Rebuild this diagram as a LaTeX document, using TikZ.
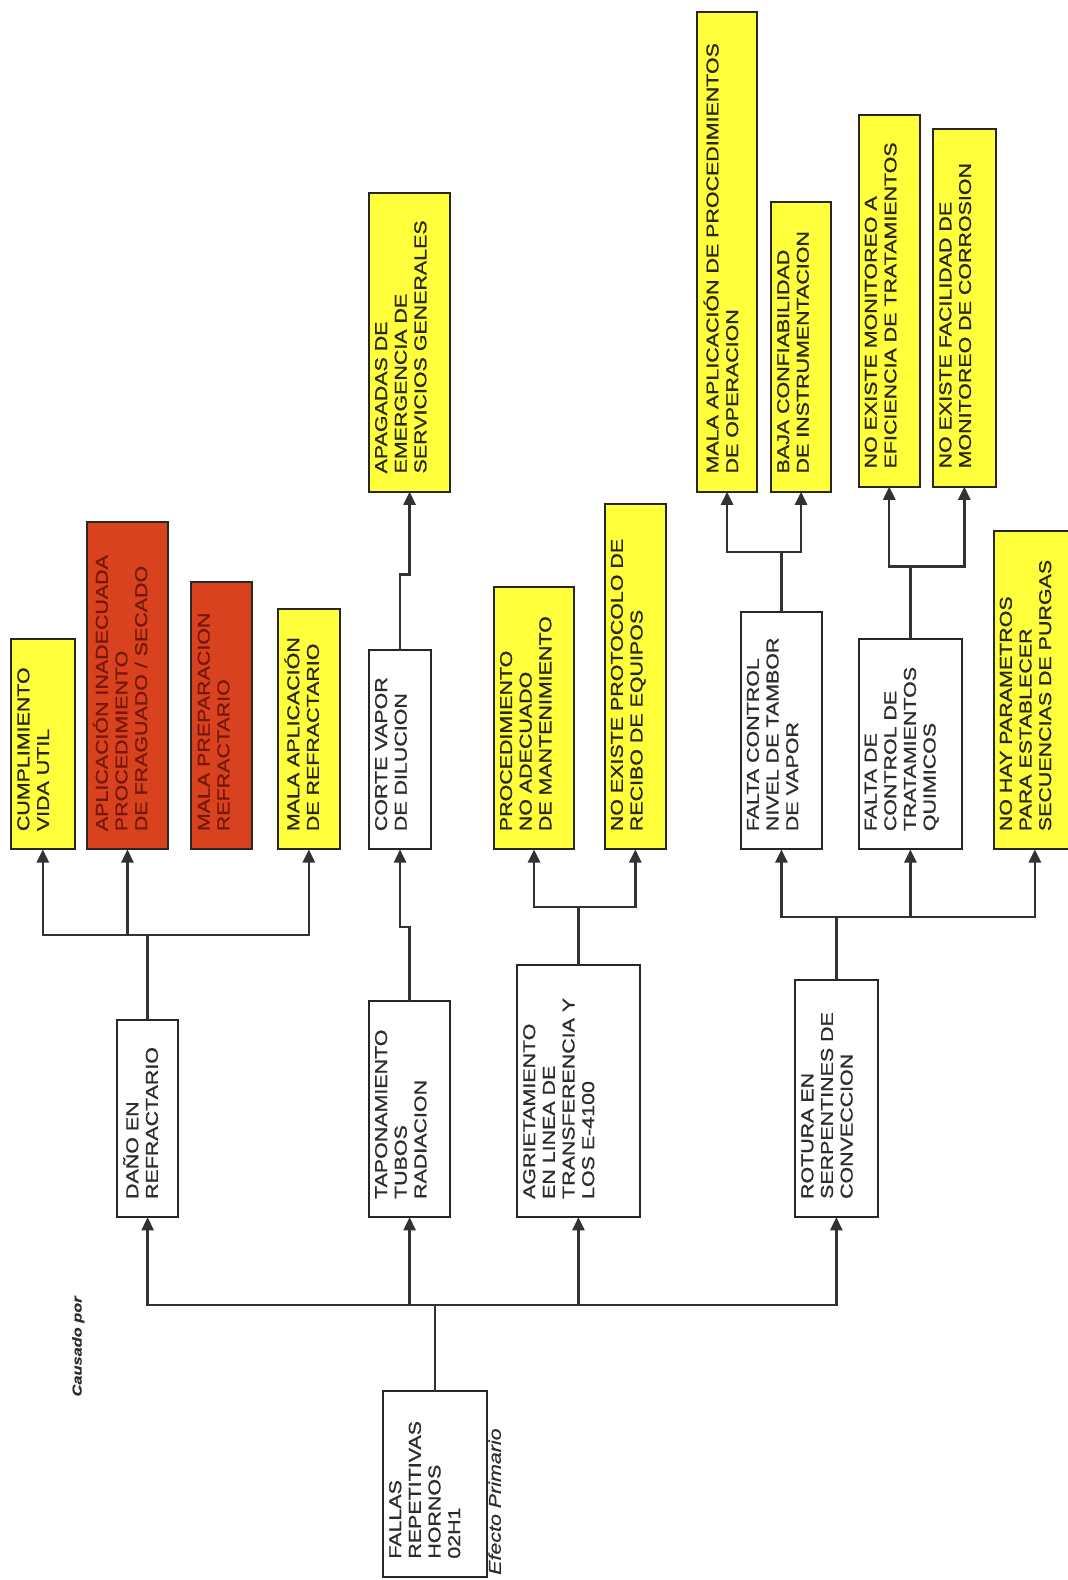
\documentclass[tikz,border=0pt]{standalone}
\usepackage{fontspec}
\setmainfont{Liberation Sans}
\newfontfamily\boxfont[FakeStretch=1.25,FakeBold=1.0]{Liberation Sans}
\newfontfamily\notefont[FakeStretch=1.25,FakeBold=0.5]{Liberation Sans}
\usetikzlibrary{arrows.meta}

\definecolor{boxyellow}{RGB}{255,255,60}
\definecolor{boxred}{RGB}{216,66,30}
\definecolor{edge}{RGB}{40,40,35}
\definecolor{wire}{RGB}{50,50,50}
\definecolor{inkdark}{RGB}{45,45,45}
\definecolor{inkolive}{RGB}{40,40,15}
\definecolor{inkred}{RGB}{120,22,10}

\tikzset{
  boxbase/.style={draw=edge, line width=2pt, inner sep=0pt, outer sep=0pt, rectangle},
  plain/.style={boxbase, fill=white},
  yel/.style={boxbase, fill=boxyellow},
  redbox/.style={boxbase, fill=boxred},
  lbl/.style={rotate=90, anchor=north west, align=left, inner sep=0pt,
    font=\boxfont\fontsize{17}{19.5}\selectfont,
    execute at begin node={\rule{0pt}{17pt}}},
  plain text/.style={lbl, text=inkdark},
  yel text/.style={lbl, text=inkolive},
  redbox text/.style={lbl, text=inkred},
  link/.style={draw=wire, line width=2.4pt},
  arr/.style={link, -{Triangle[length=13pt,width=12pt]}},
  note/.style={rotate=90, anchor=base west, inner sep=0pt, text=inkdark},
}

% \causebox{name}{style}{x1}{y1}{x2}{y2}{text}: a box between two corners,
% its text written upwards from the lower left corner
\newcommand\causebox[7]{%
  \node[#2, minimum width={(#5-#3)*1pt}, minimum height={(#6-#4)*1pt}]
    (#1) at ({(#3+#5)/2},{(#4+#6)/2}) {};
  \node[#2 text] (#1-t) at ([shift={(6pt,18pt)}]#1.south west) {#7};
}

\begin{document}
\begin{tikzpicture}[x=1pt,y=-1pt]
\useasboundingbox[fill=white] (0,0) rectangle (1059,1568);

% primary effect
\causebox{root}{plain}{380}{1380}{483}{1565}{FALLAS\\REPETITIVAS\\HORNOS\\02H1}
\node[note, font=\notefont\itshape\fontsize{17}{20}\selectfont] (effect) at (497,1563) {Efecto Primario};
\node[note, font=\notefont\bfseries\itshape\fontsize{13}{15}\selectfont] (causedby) at (81,1386) {Causado por};

% first level causes
\causebox{danio}{plain}{116}{1012}{177}{1208}{DAÑO EN\\REFRACTARIO}
\causebox{tapon}{plain}{366}{993}{447}{1208}{TAPONAMIENTO\\TUBOS\\RADIACION}
\causebox{agriet}{plain}{513}{958}{635}{1208}{AGRIETAMIENTO\\EN LINEA DE\\TRANSFERENCIA Y\\LOS E-4100}
\causebox{rotura}{plain}{789}{973}{871}{1208}{ROTURA EN\\SERPENTINES DE\\CONVECCION}

% refractory branch
\causebox{cumpl}{yel}{11}{634}{74}{843}{CUMPLIMIENTO\\VIDA UTIL}
\causebox{aplic}{redbox}{86}{518}{167}{843}{APLICACIÓN INADECUADA\\PROCEDIMIENTO\\DE FRAGUADO / SECADO}
\causebox{prep}{redbox}{190}{578}{250}{843}{MALA PREPARACION\\REFRACTARIO}
\causebox{malaref}{yel}{276}{604}{337}{843}{MALA APLICACIÓN\\DE REFRACTARIO}

% radiation tubes branch
\causebox{corte}{plain}{366}{645}{428}{843}{CORTE VAPOR\\DE DILUCION}
\causebox{apag}{yel}{366}{192}{447}{488}{APAGADAS DE\\EMERGENCIA DE\\SERVICIOS GENERALES}

% transfer line branch
\causebox{proc}{yel}{490}{583}{570}{843}{PROCEDIMIENTO\\NO ADECUADO\\DE MANTENIMIENTO}
\causebox{proto}{yel}{600}{500}{661}{843}{NO EXISTE PROTOCOLO DE\\RECIBO DE EQUIPOS}

% convection coil branch
\causebox{nivel}{plain}{735}{607}{816}{843}{FALTA CONTROL\\NIVEL DE TAMBOR\\DE VAPOR}
\causebox{quim}{plain}{852}{634}{955}{843}{FALTA DE\\CONTROL DE\\TRATAMIENTOS\\QUIMICOS}
\causebox{purgas}{yel}{986}{527}{1068}{843}{NO HAY PARAMETROS\\PARA ESTABLECER\\SECUENCIAS DE PURGAS}
\causebox{malaop}{yel}{692}{12}{751}{488}{MALA APLICACIÓN DE PROCEDIMIENTOS\\DE OPERACION}
\causebox{baja}{yel}{765}{200}{825}{488}{BAJA CONFIABILIDAD\\DE INSTRUMENTACION}
\causebox{monit}{yel}{852}{114}{913}{483}{NO EXISTE MONITOREO A\\EFICIENCIA DE TRATAMIENTOS}
\causebox{corros}{yel}{926}{128}{988}{483}{NO EXISTE FACILIDAD DE\\MONITOREO DE CORROSION}

% junction points of the connector buses
\coordinate (busroot) at (431.5,1295);
\coordinate (busdanio) at (146.5,928);
\coordinate (busagriet) at (574,900);
\coordinate (busrotura) at (830,910);
\coordinate (busnivel) at (775.5,548);
\coordinate (busquim) at (903.5,562);

% connectors
\foreach \t in {danio,tapon,agriet,rotura}
  \draw[arr] (root.north) -- (busroot) -| (\t.south);
\foreach \t in {cumpl,aplic,malaref}
  \draw[arr] (danio.north) -- (busdanio) -| (\t.south);
\draw[arr] (tapon.north) -- ++(0,-73) -| (corte.south);
\draw[arr] (corte.north) -- ++(0,-75) -| (apag.south);
\foreach \t in {proc,proto}
  \draw[arr] (agriet.north) -- (busagriet) -| (\t.south);
\foreach \t in {nivel,quim,purgas}
  \draw[arr] (rotura.north) -- (busrotura) -| (\t.south);
\foreach \t in {malaop,baja}
  \draw[arr] (nivel.north) -- (busnivel) -| (\t.south);
\foreach \t in {monit,corros}
  \draw[arr] (quim.north) -- (busquim) -| (\t.south);
\end{tikzpicture}
\end{document}
